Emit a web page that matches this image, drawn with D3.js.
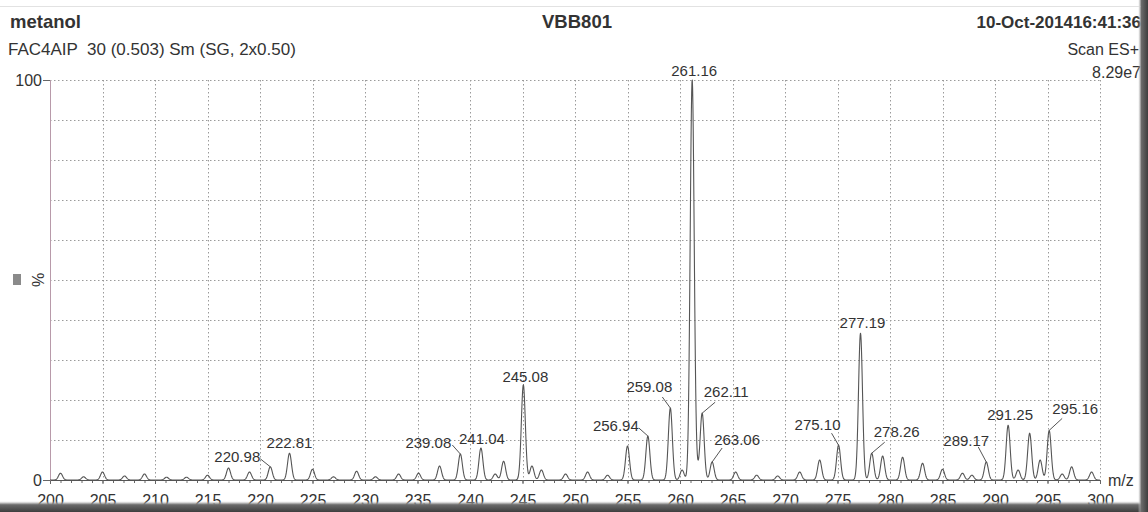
<!DOCTYPE html>
<html>
<head>
<meta charset="utf-8">
<script src="https://cdn.jsdelivr.net/npm/d3@7"></script>
<style>
  html, body { margin: 0; padding: 0; background: #fff; }
  svg { display: block; font-family: "Liberation Sans", Arial, sans-serif; }
</style>
</head>
<body>
<div id="chart"></div>
<script>
// Labelled peaks (m/z, relative intensity %)
const labelledMz = [220.98, 222.81, 239.08, 241.04, 245.08, 256.94, 259.08, 261.16,
                    262.11, 263.06, 275.10, 277.19, 278.26, 289.17, 291.25, 295.16];
const labelledIntensity = [3.3, 6.7, 6.5, 8.0, 23.8, 11.0, 18.0, 100,
                           16.7, 4.5, 8.7, 36.7, 6.7, 4.5, 13.7, 12.4];

// Unlabelled peaks in the scan
const minorMz = [201.0, 203.2, 205.0, 207.1, 209.0, 211.1, 213.0, 215.0, 217.0, 219.0,
                 225.0, 227.0, 229.2, 231.0, 233.2, 235.1, 237.1, 242.4, 243.2, 245.9,
                 246.8, 249.1, 251.2, 253.1, 255.0, 260.2, 261.6, 265.3, 267.3, 269.3,
                 271.4, 273.3, 279.3, 281.2, 283.1, 285.0, 286.9, 287.8, 292.2, 293.3,
                 294.3, 296.4, 297.3, 299.2];
const minorIntensity = [1.7, 0.8, 2.0, 1.0, 1.5, 0.7, 0.7, 1.2, 3.0, 2.0,
                        2.7, 0.8, 2.2, 0.8, 1.5, 1.7, 3.5, 1.5, 4.7, 3.5,
                        2.5, 1.5, 2.0, 1.2, 8.5, 2.5, 2.0, 2.0, 1.2, 1.0,
                        2.0, 5.0, 6.0, 5.7, 4.2, 2.7, 1.7, 1.2, 2.5, 11.7,
                        5.0, 1.5, 3.3, 2.0];

// Axis ticks
const xTickValues = [200, 205, 210, 215, 220, 225, 230, 235, 240, 245,
                     250, 255, 260, 265, 270, 275, 280, 285, 290, 295, 300];
const yTickValues = [0, 100];

// Header texts
const title = "metanol";
const subtitle = "FAC4AIP  30 (0.503) Sm (SG, 2x0.50)";
const sampleName = "VBB801";
const stamp = "10-Oct-201416:41:36";
const scanMode = "Scan ES+";
const fullScale = "8.29e7";

// Label placement relative to each peak apex: text offset and leader start
const labelLayout = [
  { dx: -33, dy: -5,  lx: -10, ly: -8 },
  { dx: 0,   dy: -5 },
  { dx: -32, dy: -6,  lx: -8,  ly: -9 },
  { dx: 1,   dy: -4 },
  { dx: 2,   dy: -3 },
  { dx: -32, dy: -5,  lx: -9,  ly: -8 },
  { dx: -21, dy: -16, lx: -8,  ly: -11 },
  { dx: 2,   dy: -4 },
  { dx: 24,  dy: -16, lx: 13,  ly: -11 },
  { dx: 25,  dy: -17, lx: 10,  ly: -14 },
  { dx: -21, dy: -15, lx: -7,  ly: -12 },
  { dx: 2,   dy: -5 },
  { dx: 25,  dy: -16, lx: 13,  ly: -11 },
  { dx: -20, dy: -16, lx: -8,  ly: -15 },
  { dx: 2,   dy: -5 },
  { dx: 26,  dy: -16, lx: 13,  ly: -12 }
];

const W = 1148, H = 512;
const svg = d3.select("#chart").append("svg").attr("width", W).attr("height", H);

// Paper sheet with a dark shadow along the right and bottom edges
const defs = svg.append("defs");
defs.append("filter").attr("id", "soft").append("feGaussianBlur").attr("stdDeviation", 1.6);
svg.append("rect").attr("width", W).attr("height", H).attr("fill", "#4a4a4a");
svg.append("rect").attr("x", -10).attr("y", -10).attr("width", 1151).attr("height", 514)
  .attr("fill", "#fff").attr("filter", "url(#soft)");
svg.append("line").attr("x1", 0).attr("x2", 1141).attr("y1", 6.5).attr("y2", 6.5)
  .attr("stroke", "#e2e2e2");

const x = d3.scaleLinear().domain([200, 300]).range([50, 1100]);
const y = d3.scaleLinear().domain([0, 100]).range([480, 80]);

const textColor = "#333";

// Grid
const grid = svg.append("g").attr("stroke", "#9a9a9a").attr("stroke-dasharray", "1.5,2.5");
grid.selectAll("line.h").data(d3.range(10, 101, 10)).join("line")
  .attr("x1", x(200)).attr("x2", x(300))
  .attr("y1", d => y(d) + 0.5).attr("y2", d => y(d) + 0.5);
grid.selectAll("line.v").data(xTickValues.slice(1)).join("line")
  .attr("x1", d => Math.round(x(d)) + 0.5).attr("x2", d => Math.round(x(d)) + 0.5)
  .attr("y1", y(100)).attr("y2", y(0));

// X axis: minor ticks each unit, labelled ticks each 5
const xMinor = svg.append("g").attr("transform", `translate(0,${y(0)})`)
  .call(d3.axisBottom(x).tickValues(d3.range(200, 301, 1)).tickSize(3).tickFormat(""));
const xMajor = svg.append("g").attr("transform", `translate(0,${y(0)})`)
  .call(d3.axisBottom(x).tickValues(xTickValues).tickSize(4).tickPadding(11));
[xMinor, xMajor].forEach(g => {
  g.select(".domain").attr("stroke", "#555");
  g.selectAll(".tick line").attr("stroke", "#666");
});
xMajor.selectAll("text").attr("font-size", 16).attr("fill", textColor)
  .attr("font-family", "Liberation Sans, Arial, sans-serif");

// Y axis
const yAxis = svg.append("g").attr("transform", `translate(${x(200)},0)`)
  .call(d3.axisLeft(y).tickValues(yTickValues).tickSize(7).tickPadding(1));
yAxis.select(".domain").attr("stroke", "#b89aaa");
yAxis.selectAll(".tick line").attr("stroke", "#666");
yAxis.selectAll("text").attr("font-size", 16).attr("fill", textColor)
  .attr("font-family", "Liberation Sans, Arial, sans-serif");

// Axis titles
svg.append("rect").attr("x", 13).attr("y", 274).attr("width", 8).attr("height", 11).attr("fill", "#8a8a8a");
svg.append("text").attr("transform", "translate(44,280) rotate(-90)")
  .attr("text-anchor", "middle").attr("font-size", 16).attr("fill", textColor).text("%");
svg.append("text").attr("x", 1108).attr("y", 486).attr("font-size", 16)
  .attr("fill", textColor).text("m/z");

// Spectrum trace: every peak rendered as a smoothed profile around its apex
const peaks = labelledMz.map((m, i) => ({ mz: m, v: labelledIntensity[i] }))
  .concat(minorMz.map((m, i) => ({ mz: m, v: minorIntensity[i] })));
const sigma = 0.19;
const profile = d3.range(200, 300.001, 0.03).map(m => {
  let s = 0;
  for (const p of peaks) {
    const d = (m - p.mz) / sigma;
    if (Math.abs(d) < 6) s += p.v * Math.exp(-0.5 * d * d);
  }
  return [m, Math.min(s, 100)];
});
svg.append("path").datum(profile)
  .attr("fill", "none").attr("stroke", "#555").attr("stroke-width", 1.1)
  .attr("stroke-linejoin", "round")
  .attr("d", d3.line().x(d => x(d[0])).y(d => y(d[1])));

// Peak labels and leader lines
const labels = svg.append("g");
labelledMz.forEach((m, i) => {
  const px = x(m), py = y(labelledIntensity[i]);
  const L = labelLayout[i];
  if (L.lx !== undefined) {
    labels.append("line").attr("x1", px + L.lx).attr("y1", py + L.ly)
      .attr("x2", px).attr("y2", py).attr("stroke", "#555").attr("stroke-width", 1);
  }
  labels.append("text").attr("x", px + L.dx).attr("y", py + L.dy)
    .attr("text-anchor", "middle").attr("font-size", 15).attr("fill", textColor)
    .text(m.toFixed(2));
});

// Header
svg.append("text").attr("x", 10).attr("y", 28).attr("font-size", 18.5)
  .attr("font-weight", "bold").attr("fill", textColor).text(title);
svg.append("text").attr("x", 8).attr("y", 55).attr("font-size", 17)
  .attr("fill", textColor).text(subtitle).style("white-space", "pre");
svg.append("text").attr("x", 577).attr("y", 28).attr("text-anchor", "middle")
  .attr("font-size", 18.5).attr("font-weight", "bold").attr("fill", textColor).text(sampleName);
svg.append("text").attr("x", 1141).attr("y", 28).attr("text-anchor", "end")
  .attr("font-size", 17).attr("font-weight", "bold").attr("fill", textColor).text(stamp);
svg.append("text").attr("x", 1139).attr("y", 55).attr("text-anchor", "end")
  .attr("font-size", 16).attr("fill", textColor).text(scanMode);
svg.append("text").attr("x", 1141).attr("y", 78).attr("text-anchor", "end")
  .attr("font-size", 16).attr("fill", textColor).text(fullScale);

// Shadow band drawn last so it overlaps the bottom tick labels like the sheet edge
const grad = defs.append("linearGradient").attr("id", "shB").attr("x1", 0).attr("x2", 0).attr("y1", 0).attr("y2", 1);
grad.append("stop").attr("offset", 0).attr("stop-color", "#fff").attr("stop-opacity", 0);
grad.append("stop").attr("offset", 0.35).attr("stop-color", "#6a6a6a");
grad.append("stop").attr("offset", 1).attr("stop-color", "#3e3e3e");
svg.append("rect").attr("x", 0).attr("y", 501).attr("width", W).attr("height", 11).attr("fill", "url(#shB)");
const gradR = defs.append("linearGradient").attr("id", "shR").attr("x1", 0).attr("x2", 1).attr("y1", 0).attr("y2", 0);
gradR.append("stop").attr("offset", 0).attr("stop-color", "#fff").attr("stop-opacity", 0);
gradR.append("stop").attr("offset", 0.35).attr("stop-color", "#6a6a6a");
gradR.append("stop").attr("offset", 1).attr("stop-color", "#3e3e3e");
svg.append("rect").attr("x", 1138).attr("y", 0).attr("width", 10).attr("height", H).attr("fill", "url(#shR)");
</script>
</body>
</html>
